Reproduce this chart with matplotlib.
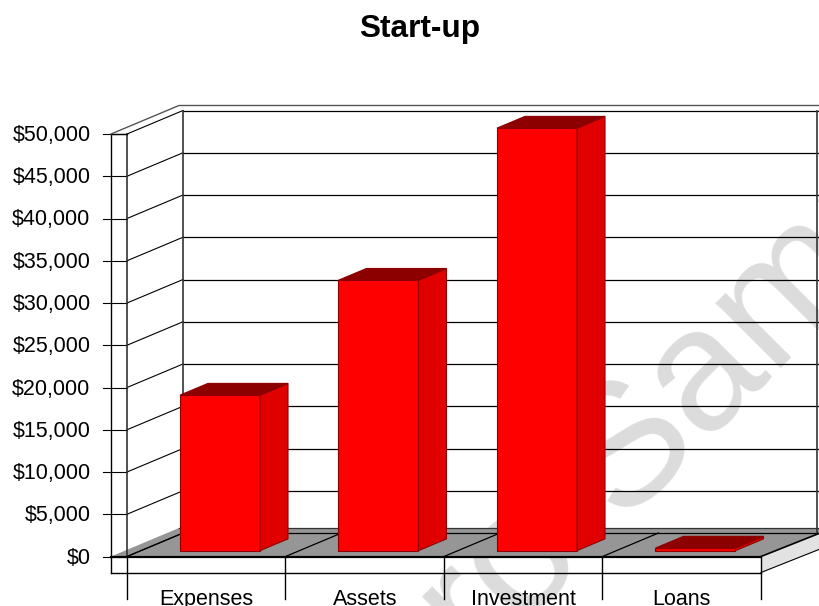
import matplotlib
matplotlib.use('Agg')
import matplotlib.pyplot as plt
from matplotlib.patches import Polygon

categories = ['Expenses', 'Assets', 'Investment', 'Loans']
values = [18400, 32000, 50000, 300]
y_ticks = [0, 5000, 10000, 15000, 20000, 25000, 30000, 35000, 40000, 45000, 50000]
y_labels = ['$0', '$5,000', '$10,000', '$15,000', '$20,000', '$25,000',
            '$30,000', '$35,000', '$40,000', '$45,000', '$50,000']

plt.rcParams['font.family'] = ['Liberation Sans', 'DejaVu Sans']

# one category = 158.5 px, one dollar = 422.5/50000 px
px_x = 158.5
px_y = 422.5 / 50000
x0_px = 127
y0_px = 556.5
depth_x = 56 / px_x
depth_y = 23.5 / px_y

fig = plt.figure(figsize=(8.19, 6.06), dpi=100)
ax = fig.add_axes([0, 0, 1, 1])
ax.set_xlim(-x0_px / px_x, (819 - x0_px) / px_x)
ax.set_ylim(-(606 - y0_px) / px_y, y0_px / px_y)
ax.axis('off')

n = len(categories)
top = y_ticks[-1]
wall_x = -16 / px_x
under = -16 / px_y
rim = 5 / px_y
right_x = n + depth_x + 0.02


def poly(pts, fc='none', ec='none', lw=1.0, z=2):
    ax.add_patch(Polygon(pts, closed=True, facecolor=fc, edgecolor=ec, linewidth=lw, zorder=z))


# watermark sits behind everything
wm_x = (398 - x0_px) / px_x
wm_y = (y0_px - 752) / px_y
ax.text(wm_x, wm_y, 'Pro Sample', fontsize=125, color='#dcdcdc', rotation=45,
        rotation_mode='anchor', ha='left', va='baseline', zorder=0)

# floor
poly([(wall_x, 0), (n, 0), (right_x, depth_y), (right_x, depth_y + rim),
      (depth_x - 4 / px_x, depth_y + rim)], fc='#969696', ec='none', z=2)
ax.plot([depth_x - 4 / px_x, right_x], [depth_y + rim, depth_y + rim], color='#333333', lw=0.9, zorder=3)

# back wall gridlines and side wall gridlines
for v in y_ticks:
    ax.plot([depth_x, right_x], [v + depth_y, v + depth_y], color='black', lw=0.9, zorder=3)
    ax.plot([0, depth_x], [v, v + depth_y], color='black', lw=0.8, zorder=3)
    ax.plot([-24 / px_x, 0], [v, v], color='black', lw=0.8, zorder=3)

# wall edges
ax.plot([depth_x, depth_x], [depth_y, top + depth_y], color='#333333', lw=1.2, zorder=3)
ax.plot([n + depth_x, n + depth_x], [depth_y, top + depth_y], color='#333333', lw=1.2, zorder=3)
ax.plot([0, 0], [0, top], color='#333333', lw=1.2, zorder=3)
ax.plot([wall_x, wall_x], [under, top], color='black', lw=1.0, zorder=3)
ax.plot([wall_x, 0], [top, top], color='black', lw=1.0, zorder=3)
ax.plot([wall_x, depth_x - 4 / px_x, right_x],
        [top, top + depth_y + rim, top + depth_y + rim], color='#555555', lw=1.0, zorder=3)

# floor depth lines at category edges
for i in range(n + 1):
    ax.plot([i, i], [0, -42 / px_y], color='black', lw=1.0, zorder=4)
    if i < n:
        ax.plot([i, i + depth_x], [0, depth_y], color='black', lw=0.9, zorder=3)
ax.plot([wall_x, n], [0, 0], color='black', lw=1.6, zorder=4)
ax.plot([wall_x, n], [under, under], color='black', lw=1.0, zorder=4)

# right side of the base
poly([(n, 0), (right_x, depth_y), (right_x, under + depth_y), (n, under)], fc='#e2e2e2', ec='none', z=3)
ax.plot([n, right_x], [0, depth_y], color='black', lw=1.2, zorder=4)
ax.plot([n, right_x], [under, under + depth_y], color='black', lw=0.8, zorder=4)

# bars, quarter of the way into the depth and half of it deep
bar_w = 80 / px_x
for i, val in enumerate(values):
    left = i + (53 / px_x)
    base = 0.25 * depth_y
    dx = 0.5 * depth_x
    dy = 0.5 * depth_y
    ax.bar(left, val, bar_w, bottom=base, align='edge', color='#ff0000', edgecolor='#8c0000',
           linewidth=0.8, zorder=6)
    poly([(left + bar_w, base), (left + bar_w + dx, base + dy),
          (left + bar_w + dx, base + val + dy), (left + bar_w, base + val)],
         fc='#e10000', ec='#8c0000', lw=0.8, z=6)
    poly([(left, base + val), (left + dx, base + val + dy),
          (left + bar_w + dx, base + val + dy), (left + bar_w, base + val)],
         fc='#8c0000', ec='#8c0000', lw=0.8, z=6)

for v, lab in zip(y_ticks, y_labels):
    ax.text(-36.5 / px_x, v - 1.5 / px_y, lab, ha='right', va='center', fontsize=15.5, zorder=7)

for i, cat in enumerate(categories):
    ax.text(i + 0.5, -(605 - y0_px) / px_y, cat, ha='center', va='baseline', fontsize=15.5, zorder=7)

fig.text(420 / 819, 1 - 29.5 / 606, 'Start-up', ha='center', va='center', fontsize=22.8, fontweight='bold')

fig.savefig('out.png', dpi=100)
